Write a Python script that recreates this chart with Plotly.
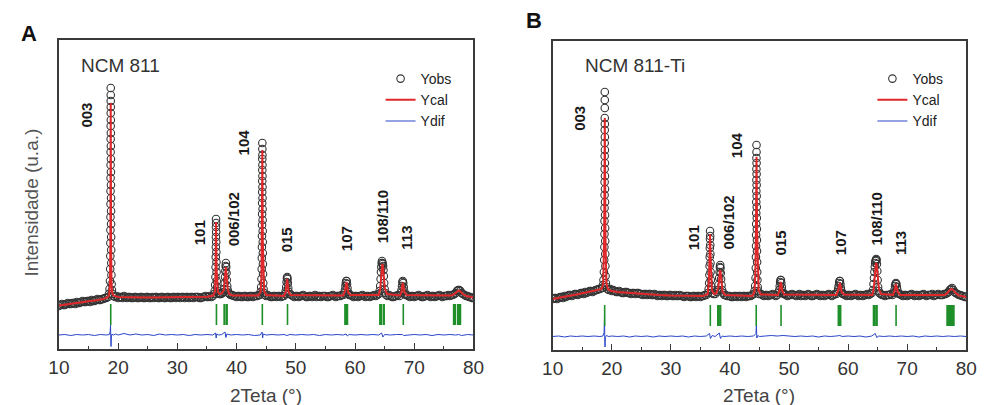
import plotly.graph_objects as go

# ---------------- DATA (2Teta in degrees, intensity in a.u.) ----------------
obs_A_bg1 = [(10.0, 43), (10.25, 44), (10.5, 45), (10.75, 44), (11.0, 44), (11.25, 45), (11.5, 46), (11.75, 45),
             (12.0, 45), (12.25, 46), (12.5, 46), (12.75, 45), (13.0, 47), (13.25, 46), (13.5, 46), (13.75, 47),
             (14.0, 48), (14.25, 47), (14.5, 47), (14.75, 48), (15.0, 48), (15.25, 47), (15.5, 49), (15.75, 48),
             (16.0, 48), (16.25, 49), (16.5, 50), (16.75, 49), (17.0, 49), (17.25, 50), (17.5, 50), (17.75, 51),
             (18.0, 51)]
obs_A_003 = [(18.3, 52), (18.45, 55), (18.55, 60), (18.62, 68), (18.66, 80), (18.68, 93), (18.69, 106), (18.70, 119),
             (18.71, 132), (18.715, 145), (18.72, 158), (18.725, 171), (18.73, 184), (18.735, 197), (18.74, 210),
             (18.745, 223), (18.75, 236), (18.75, 248), (18.75, 254), (18.75, 261),
             (18.76, 242), (18.765, 229), (18.77, 216), (18.775, 203), (18.78, 190), (18.785, 177), (18.79, 164),
             (18.80, 151), (18.805, 138), (18.81, 125), (18.82, 112), (18.83, 99), (18.845, 86), (18.87, 74),
             (18.9, 65), (18.95, 59), (19.05, 55), (19.2, 53)]
obs_A_bg2 = [(19.5, 52), (19.75, 53), (20.0, 51), (20.25, 52), (20.5, 52), (20.75, 51), (21.0, 53), (21.25, 52),
             (21.5, 51), (21.75, 52), (22.0, 52), (22.25, 51), (22.5, 51), (22.75, 52), (23.0, 52), (23.25, 51),
             (23.5, 51), (23.75, 52), (24.0, 52), (24.25, 51), (24.5, 51), (24.75, 52), (25.0, 52), (25.25, 51),
             (25.5, 51), (25.75, 52), (26.0, 51), (26.25, 52), (26.5, 52), (26.75, 51), (27.0, 51), (27.25, 52),
             (27.5, 52), (27.75, 51), (28.0, 51), (28.25, 52), (28.5, 52), (28.75, 51), (29.0, 51), (29.25, 52),
             (29.5, 52), (29.75, 51), (30.0, 52), (30.25, 52), (30.5, 51), (30.75, 52), (31.0, 52), (31.25, 51),
             (31.5, 52), (31.75, 52), (32.0, 51), (32.25, 52), (32.5, 52), (32.75, 51), (33.0, 52), (33.25, 52),
             (33.5, 52), (33.75, 51), (34.0, 51), (34.25, 52), (34.5, 52), (34.75, 53), (35.0, 52), (35.25, 52),
             (35.5, 53), (35.75, 52), (36.0, 53)]
obs_A_101 = [(36.2, 55), (36.3, 58), (36.38, 64), (36.43, 72), (36.46, 82), (36.48, 92), (36.5, 102), (36.51, 112),
             (36.52, 122), (36.53, 130), (36.54, 126), (36.55, 117), (36.56, 107), (36.58, 97), (36.6, 87),
             (36.62, 77), (36.65, 68), (36.7, 62), (36.78, 58), (36.9, 56), (37.05, 55), (37.2, 55), (37.4, 55),
             (37.6, 56)]
obs_A_006_102 = [(37.8, 57), (37.9, 60), (38.0, 66), (38.05, 72), (38.1, 78), (38.15, 83), (38.2, 86), (38.25, 82),
                 (38.3, 76), (38.35, 69), (38.42, 63), (38.5, 59), (38.65, 56), (38.8, 55), (39.0, 54)]
obs_A_bg3 = [(39.25, 54), (39.5, 53), (39.75, 53), (40.0, 52), (40.25, 53), (40.5, 53), (40.75, 52), (41.0, 52),
             (41.25, 53), (41.5, 53), (41.75, 52), (42.0, 52), (42.25, 53), (42.5, 53), (42.75, 52), (43.0, 53),
             (43.25, 53), (43.5, 53), (43.75, 54)]
obs_A_104 = [(43.9, 54), (44.05, 57), (44.15, 62), (44.2, 70), (44.24, 80), (44.26, 91), (44.28, 102), (44.29, 113),
             (44.3, 124), (44.31, 135), (44.32, 146), (44.33, 157), (44.335, 168), (44.34, 179), (44.345, 190),
             (44.35, 200), (44.35, 206),
             (44.36, 194), (44.365, 184), (44.37, 173), (44.375, 162), (44.38, 151), (44.39, 140), (44.4, 129),
             (44.41, 118), (44.42, 107), (44.43, 96), (44.45, 85), (44.47, 75), (44.5, 66), (44.55, 60),
             (44.65, 56), (44.8, 54)]
obs_A_bg4 = [(45.0, 53), (45.25, 54), (45.5, 53), (45.75, 52), (46.0, 52), (46.25, 53), (46.5, 53), (46.75, 52),
             (47.0, 53), (47.25, 53), (47.5, 52), (47.75, 53), (48.0, 53)]
obs_A_015 = [(48.2, 55), (48.3, 58), (48.38, 62), (48.44, 67), (48.5, 71), (48.55, 72), (48.6, 70), (48.66, 66),
             (48.72, 61), (48.8, 57), (48.9, 55)]
obs_A_bg5 = [(49.25, 54), (49.5, 53), (49.75, 52), (50.0, 53), (50.25, 53), (50.5, 52), (50.75, 53), (51.0, 53),
             (51.25, 54), (51.5, 53), (51.75, 52), (52.0, 52), (52.25, 53), (52.5, 53), (52.75, 52), (53.0, 53),
             (53.25, 54), (53.5, 52), (53.75, 53), (54.0, 53), (54.25, 52), (54.5, 53), (54.75, 53), (55.0, 53),
             (55.25, 52), (55.5, 52), (55.75, 53), (56.0, 53), (56.25, 54), (56.5, 53), (56.75, 52), (57.0, 53),
             (57.25, 53), (57.5, 53), (57.75, 54), (58.0, 54)]
obs_A_107 = [(58.2, 56), (58.3, 59), (58.38, 63), (58.45, 66), (58.52, 68), (58.58, 68), (58.65, 65), (58.72, 61),
             (58.8, 57), (58.9, 55), (59.0, 54)]
obs_A_bg6 = [(59.25, 54), (59.5, 53), (59.75, 52), (60.0, 53), (60.25, 53), (60.5, 52), (60.75, 53), (61.0, 53),
             (61.25, 54), (61.5, 53), (61.75, 52), (62.0, 53), (62.25, 53), (62.5, 52), (62.75, 53), (63.0, 53),
             (63.25, 54), (63.5, 53), (63.75, 54), (64.0, 55)]
obs_A_108_110 = [(64.15, 58), (64.25, 63), (64.32, 70), (64.38, 77), (64.44, 82), (64.5, 86), (64.56, 88),
                 (64.62, 86), (64.68, 85), (64.74, 83), (64.8, 79), (64.86, 73), (64.92, 66), (65.0, 60),
                 (65.1, 56), (65.25, 54)]
obs_A_bg7 = [(65.5, 53), (65.75, 54), (66.0, 53), (66.25, 52), (66.5, 52), (66.75, 53), (67.0, 53), (67.25, 54),
             (67.5, 53)]
obs_A_113 = [(67.75, 56), (67.85, 59), (67.93, 63), (68.0, 67), (68.07, 68), (68.14, 66), (68.22, 62), (68.3, 58),
             (68.4, 55), (68.55, 54)]
obs_A_bg8 = [(68.75, 54), (69.0, 53), (69.25, 52), (69.5, 53), (69.75, 53), (70.0, 52), (70.25, 53), (70.5, 53),
             (70.75, 54), (71.0, 53), (71.25, 52), (71.5, 52), (71.75, 53), (72.0, 53), (72.25, 54), (72.5, 53),
             (72.75, 52), (73.0, 53), (73.25, 53), (73.5, 52), (73.75, 53), (74.0, 53), (74.25, 54), (74.5, 53),
             (74.75, 52), (75.0, 53), (75.25, 53), (75.5, 53), (75.75, 54), (76.0, 53), (76.25, 54), (76.5, 54)]
obs_A_77 = [(76.8, 55), (77.0, 56), (77.2, 58), (77.4, 59), (77.6, 59), (77.8, 58), (78.0, 56), (78.2, 55), (78.5, 54)]
obs_A_bg9 = [(78.75, 53), (79.0, 53), (79.25, 52), (79.5, 52), (79.75, 51), (80.0, 51)]

# Panel A : calculated profile (Ycal)
cal_A = [(10, 43.5), (12, 45), (14, 46.8), (16, 48.5), (17.5, 50), (18.3, 52), (18.5, 55), (18.62, 65), (18.69, 110),
         (18.72, 180), (18.75, 246), (18.78, 180), (18.81, 110), (18.88, 65), (19.0, 56), (19.3, 53), (20, 52),
         (25, 51.5), (30, 51.7), (35, 52.3), (36.1, 53.5), (36.35, 58), (36.45, 75), (36.5, 105), (36.53, 127),
         (36.57, 105), (36.62, 80), (36.7, 63), (36.85, 57), (37.1, 55), (37.5, 55.5), (37.85, 59), (38.0, 66),
         (38.1, 76), (38.18, 82), (38.26, 78), (38.35, 68), (38.5, 60), (38.75, 55), (39.3, 53.5), (43.7, 53.5),
         (44.05, 57), (44.2, 72), (44.28, 110), (44.35, 199), (44.42, 110), (44.5, 72), (44.65, 58), (45.0, 54),
         (48.0, 53), (48.3, 57), (48.45, 66), (48.53, 70), (48.62, 66), (48.78, 57), (49.1, 54), (58.0, 53.5),
         (58.3, 58), (58.45, 65), (58.55, 67), (58.65, 64), (58.82, 57), (59.2, 54), (64.0, 54), (64.25, 60),
         (64.4, 73), (64.52, 83), (64.6, 85), (64.7, 83), (64.8, 79), (64.9, 70), (65.05, 60), (65.4, 55),
         (67.6, 53.5), (67.85, 57), (67.98, 64), (68.07, 66), (68.17, 63), (68.35, 57), (68.7, 54), (76.3, 53.5),
         (76.8, 55), (77.2, 57.5), (77.5, 58.5), (77.8, 57.5), (78.2, 55), (78.8, 53), (80, 51.5)]

# Panel A : difference curve (Yobs - Ycal)
dif_A = [(10, 0), (11, 0.5), (12, -0.5), (13, 0.5), (14, 0), (15, 0.5), (16, -0.5), (17, 0.5), (18, 0), (18.5, 0.5),
         (18.65, 3), (18.72, 10), (18.76, -4), (18.8, -11.5), (18.86, -2), (18.95, 1), (19.2, 0), (19.6, 1),
         (20, 0), (21, 1.5), (21.5, 0.5), (22, 0), (23, 1), (24, 0), (25, 0.5), (26, -0.5), (27, 1), (28, 0),
         (29, 0.5), (30, 0), (31, 0.5), (32, -0.5), (33, 0.5), (34, 0), (35, 0.5), (36, 0), (36.45, 2),
         (36.55, -3), (36.65, 1), (37, 0), (37.5, 0.5), (38.05, 3), (38.2, -2.5), (38.35, 1), (39, 0), (40, 0.5),
         (41, 0), (42, 0.5), (43, -0.5), (44, 0), (44.3, 3), (44.4, -3), (44.5, 1), (45, 0), (46, 0.5), (47, 0),
         (48, 0.5), (48.5, -0.5), (49, 0.5), (50, 0), (51, 0.5), (52, 0), (53, 0.5), (54, -0.5), (55, 0.5),
         (56, 0), (57, 0.5), (58, 0), (58.5, 1), (58.7, -1), (59, 0.5), (60, 0), (61, 0.5), (62, 0), (63, 0.5),
         (64, 0), (64.5, 2), (64.7, -2), (65, 0.5), (66, 0), (67, 0.5), (68, 0.5), (68.2, -0.5), (69, 0),
         (70, 0.5), (71, 0), (72, 0.5), (73, -0.5), (74, 0.5), (75, 0), (76, 0.5), (77, 0), (77.5, 0.5),
         (78, -0.5), (79, 0.5), (80, 0)]

# Panel A : Bragg reflection positions
bragg_A = [18.75, 36.6, 37.9, 38.0, 38.3, 38.4, 44.35, 48.6, 58.3, 58.42, 58.6, 58.72, 64.2, 64.32, 64.45,
           64.8, 64.92, 68.15, 76.65, 76.8, 76.95, 77.35, 77.5, 77.65, 77.8]

# Panel B : NCM 811-Ti -- observed pattern (Yobs)
obs_B_bg1 = [(10.0, 51), (10.25, 52), (10.5, 52), (10.75, 51), (11.0, 52), (11.25, 53), (11.5, 53), (11.75, 52),
             (12.0, 54), (12.25, 53), (12.5, 54), (12.75, 55), (13.0, 55), (13.25, 54), (13.5, 55), (13.75, 56),
             (14.0, 56), (14.25, 55), (14.5, 56), (14.75, 57), (15.0, 57), (15.25, 56), (15.5, 58), (15.75, 57),
             (16.0, 58), (16.25, 59), (16.5, 59), (16.75, 58), (17.0, 59), (17.25, 60), (17.5, 60), (17.75, 61),
             (18.0, 61)]
obs_B_003 = [(18.35, 62), (18.5, 65), (18.6, 70), (18.67, 78), (18.72, 90), (18.75, 103), (18.76, 116), (18.77, 129),
             (18.78, 142), (18.785, 155), (18.79, 168), (18.795, 181), (18.8, 194), (18.805, 207), (18.81, 220),
             (18.815, 232), (18.82, 242), (18.82, 250), (18.82, 258),
             (18.83, 226), (18.835, 213), (18.84, 200), (18.845, 187), (18.85, 174), (18.855, 161), (18.86, 148),
             (18.87, 135), (18.88, 122), (18.89, 109), (18.9, 96), (18.92, 84), (18.95, 74), (19.0, 67),
             (19.1, 63), (19.25, 61)]
obs_B_bg2 = [(19.5, 60), (19.75, 61), (20.0, 59), (20.25, 60), (20.5, 59), (20.75, 58), (21.0, 58), (21.25, 59),
             (21.5, 58), (21.75, 57), (22.0, 57), (22.25, 58), (22.5, 58), (22.75, 57), (23.0, 57), (23.25, 56),
             (23.5, 57), (23.75, 57), (24.0, 56), (24.25, 57), (24.5, 57), (24.75, 56), (25.0, 56), (25.25, 55),
             (25.5, 56), (25.75, 56), (26.0, 55), (26.25, 56), (26.5, 56), (26.75, 55), (27.0, 55), (27.25, 56),
             (27.5, 55), (27.75, 54), (28.0, 55), (28.25, 55), (28.5, 54), (28.75, 55), (29.0, 55), (29.25, 54),
             (29.5, 54), (29.75, 55), (30.0, 55), (30.25, 54), (30.5, 54), (30.75, 55), (31.0, 54), (31.25, 54),
             (31.5, 55), (31.75, 54), (32.0, 54), (32.25, 53), (32.5, 54), (32.75, 54), (33.0, 54), (33.25, 53),
             (33.5, 53), (33.75, 54), (34.0, 54), (34.25, 53), (34.5, 54), (34.75, 54), (35.0, 53), (35.25, 54),
             (35.5, 54), (35.75, 55), (36.0, 55)]
obs_B_101 = [(36.3, 57), (36.4, 61), (36.48, 67), (36.53, 75), (36.56, 84), (36.58, 93), (36.6, 102), (36.62, 111),
             (36.64, 119), (36.66, 114), (36.67, 105), (36.69, 96), (36.71, 87), (36.73, 78), (36.76, 70),
             (36.8, 64), (36.88, 60), (37.0, 57), (37.2, 56), (37.5, 56), (37.8, 58)]
obs_B_006_102 = [(37.95, 60), (38.08, 65), (38.18, 72), (38.25, 78), (38.3, 83), (38.35, 85), (38.4, 82),
                 (38.45, 77), (38.5, 71), (38.58, 65), (38.68, 60), (38.85, 57), (39.05, 55)]
obs_B_bg3 = [(39.25, 55), (39.5, 54), (39.75, 54), (40.0, 54), (40.25, 53), (40.5, 53), (40.75, 54), (41.0, 54),
             (41.25, 53), (41.5, 54), (41.75, 54), (42.0, 53), (42.25, 54), (42.5, 54), (42.75, 53), (43.0, 54),
             (43.25, 54), (43.5, 54), (43.75, 55)]
obs_B_104 = [(44.0, 56), (44.15, 59), (44.27, 64), (44.34, 72), (44.38, 82), (44.4, 93), (44.42, 104), (44.43, 115),
             (44.44, 126), (44.45, 137), (44.46, 148), (44.47, 159), (44.48, 170), (44.485, 181), (44.49, 192),
             (44.5, 198), (44.5, 205),
             (44.51, 187), (44.515, 176), (44.52, 165), (44.53, 154), (44.54, 143), (44.55, 132), (44.56, 121),
             (44.57, 110), (44.58, 99), (44.6, 88), (44.62, 78), (44.65, 70), (44.7, 63), (44.78, 59), (44.9, 56)]
obs_B_bg4 = [(45.25, 56), (45.5, 55), (45.75, 54), (46.0, 55), (46.25, 55), (46.5, 54), (46.75, 55), (47.0, 55),
             (47.25, 56), (47.5, 55), (47.75, 54), (48.0, 55)]
obs_B_015 = [(48.25, 57), (48.35, 60), (48.43, 64), (48.5, 68), (48.57, 70), (48.63, 70), (48.7, 67), (48.78, 63),
             (48.86, 59), (48.96, 57), (49.1, 56)]
obs_B_bg5 = [(49.25, 56), (49.5, 55), (49.75, 54), (50.0, 55), (50.25, 55), (50.5, 56), (50.75, 55), (51.0, 55),
             (51.25, 54), (51.5, 55), (51.75, 56), (52.0, 54), (52.25, 55), (52.5, 55), (52.75, 54), (53.0, 55),
             (53.25, 56), (53.5, 55), (53.75, 54), (54.0, 54), (54.25, 55), (54.5, 55), (54.75, 56), (55.0, 55),
             (55.25, 54), (55.5, 55), (55.75, 55), (56.0, 54), (56.25, 55), (56.5, 55), (56.75, 56), (57.0, 55),
             (57.25, 54), (57.5, 55), (57.75, 56), (58.0, 56)]
obs_B_107 = [(58.22, 58), (58.32, 61), (58.4, 64), (58.48, 67), (58.55, 69), (58.62, 69), (58.7, 66), (58.78, 62),
             (58.86, 59), (58.96, 57), (59.1, 56)]
obs_B_bg6 = [(59.25, 56), (59.5, 55), (59.75, 54), (60.0, 55), (60.25, 55), (60.5, 54), (60.75, 55), (61.0, 55),
             (61.25, 56), (61.5, 55), (61.75, 54), (62.0, 55), (62.25, 55), (62.5, 54), (62.75, 55), (63.0, 55),
             (63.25, 56), (63.5, 55), (63.75, 56), (64.0, 57)]
obs_B_108_110 = [(64.2, 60), (64.3, 66), (64.38, 72), (64.45, 78), (64.52, 83), (64.58, 87), (64.64, 89),
                 (64.7, 90), (64.76, 91), (64.82, 90), (64.88, 86), (64.94, 79), (65.0, 70), (65.08, 63),
                 (65.18, 59), (65.3, 57)]
obs_B_bg7 = [(65.5, 56), (65.75, 55), (66.0, 55), (66.25, 54), (66.5, 55), (66.75, 55), (67.0, 55), (67.25, 56),
             (67.5, 55)]
obs_B_113 = [(67.75, 57), (67.85, 60), (67.95, 64), (68.03, 66), (68.1, 67), (68.17, 66), (68.25, 63), (68.33, 60),
             (68.43, 57), (68.58, 56)]
obs_B_bg8 = [(68.75, 56), (69.0, 55), (69.25, 54), (69.5, 55), (69.75, 55), (70.0, 54), (70.25, 55), (70.5, 55),
             (70.75, 56), (71.0, 55), (71.25, 54), (71.5, 55), (71.75, 55), (72.0, 54), (72.25, 55), (72.5, 55),
             (72.75, 56), (73.0, 55), (73.25, 54), (73.5, 55), (73.75, 55), (74.0, 55), (74.25, 56), (74.5, 54),
             (74.75, 55), (75.0, 55), (75.25, 56), (75.5, 55), (75.75, 55), (76.0, 55), (76.25, 56), (76.5, 56)]
obs_B_77 = [(76.8, 57), (77.0, 58), (77.2, 60), (77.4, 61), (77.6, 62), (77.8, 60), (78.0, 58), (78.2, 57), (78.5, 56)]
obs_B_bg9 = [(78.75, 55), (79.0, 55), (79.25, 54), (79.5, 54), (79.75, 53), (80.0, 53)]

# Panel B : calculated profile (Ycal)
cal_B = [(10, 51), (12, 53), (14, 55.5), (16, 58), (17.6, 60), (18.3, 61), (18.55, 66), (18.7, 110), (18.78, 190),
         (18.82, 232), (18.86, 190), (18.94, 110), (19.1, 66), (19.4, 60.5), (20, 59), (21, 58), (23, 57), (25, 56),
         (28, 55), (30, 54.5), (33, 54), (35.5, 54), (36.25, 56), (36.45, 70), (36.55, 95), (36.64, 116),
         (36.72, 95), (36.8, 70), (36.95, 60), (37.3, 56), (37.7, 56.5), (38.05, 63), (38.2, 72), (38.32, 80),
         (38.42, 78), (38.55, 66), (38.75, 58), (39.2, 55), (43.8, 54), (44.15, 58), (44.3, 75), (44.4, 120),
         (44.5, 193), (44.6, 120), (44.7, 75), (44.85, 60), (45.2, 55.5), (48.1, 55), (48.35, 59), (48.5, 66),
         (48.6, 68), (48.7, 65), (48.85, 59), (49.2, 55.5), (58.0, 55), (58.3, 59), (58.5, 66), (58.6, 67),
         (58.72, 64), (58.9, 58), (59.3, 55.5), (64.1, 55), (64.35, 62), (64.55, 78), (64.7, 86), (64.8, 87),
         (64.9, 82), (65.05, 70), (65.25, 60), (65.6, 56), (67.6, 55), (67.85, 59), (68.0, 65), (68.1, 66),
         (68.2, 63), (68.4, 58), (68.8, 55), (76.3, 55), (76.8, 57), (77.2, 60), (77.5, 61), (77.8, 60),
         (78.2, 57), (78.8, 54.5), (80, 53)]

# Panel B : difference curve
dif_B = [(10, 0), (11, 0.5), (12, -0.5), (13, 0.5), (14, 0), (15, 0.5), (16, 0), (17, 0.5), (18, 0), (18.5, 0.5),
         (18.7, 4), (18.78, 21), (18.82, -5), (18.86, -10.5), (18.92, -1), (19.1, 1), (19.5, 0), (20, 0.5),
         (21, 0), (22, 0.5), (23, -0.5), (24, 0.5), (25, 0), (26, 0.5), (27, -0.5), (28, 0.5), (29, 0),
         (30, 0.5), (31, 0), (32, 0.5), (33, -0.5), (34, 0.5), (35, 0), (36, 0.5), (36.55, 3), (36.7, -2),
         (37, 1), (37.5, 0), (38.2, 3.5), (38.4, -2), (38.7, 0.5), (39, 0), (40, 0.5), (41, 0), (42, 0.5),
         (43, 0), (44, 0.5), (44.4, 3), (44.48, 11), (44.55, -1.5), (44.7, 1), (45, 0), (46, 0.5), (47, 1),
         (48, 0.5), (49, 1), (50, 0.5), (51, 0), (52, 0.5), (53, 0), (54, 0.5), (55, -0.5), (56, 0.5), (57, 0),
         (58, 0.5), (58.6, 1), (59, 0), (60, 0.5), (61, 0), (62, 0.5), (63, -0.5), (64, 0.5), (64.6, 3),
         (64.85, -1), (65.2, 0.5), (66, 0), (67, 0.5), (68, 0), (69, 0.5), (70, 0), (71, 0.5), (72, -0.5),
         (73, 0.5), (74, 0), (75, 0.5), (76, 0), (77, 0.5), (78, 0), (79, 0.5), (80, 0)]

bragg_B = [18.8, 36.68, 37.95, 38.07, 38.3, 38.42, 44.45, 48.65, 58.35, 58.48, 58.62, 58.74, 64.3, 64.42, 64.55,
           64.78, 64.9, 68.12, 76.75, 76.88, 77.0, 77.13, 77.26, 77.39, 77.52, 77.65, 77.78, 77.91]

# peak (hkl) labels: text, 2Teta, intensity where the label is centred
labels_A = [("003", 14.5, 234), ("101", 33.7, 116), ("006/102", 39.45, 130), ("104", 41.15, 207),
            ("015", 48.4, 109), ("107", 58.5, 110), ("108/110", 64.6, 132), ("113", 68.55, 111)]
labels_B = [("003", 14.6, 232), ("101", 33.8, 112), ("006/102", 39.6, 127), ("104", 41.05, 205),
            ("015", 48.4, 107), ("107", 58.65, 107), ("108/110", 64.8, 131), ("113", 68.8, 107)]

x_ticks = [10, 20, 30, 40, 50, 60, 70, 80]

obs_A = (obs_A_bg1 + obs_A_003 + obs_A_bg2 + obs_A_101 + obs_A_006_102 + obs_A_bg3 + obs_A_104 + obs_A_bg4 +
         obs_A_015 + obs_A_bg5 + obs_A_107 + obs_A_bg6 + obs_A_108_110 + obs_A_bg7 + obs_A_113 + obs_A_bg8 +
         obs_A_77 + obs_A_bg9)
obs_B = (obs_B_bg1 + obs_B_003 + obs_B_bg2 + obs_B_101 + obs_B_006_102 + obs_B_bg3 + obs_B_104 + obs_B_bg4 +
         obs_B_015 + obs_B_bg5 + obs_B_107 + obs_B_bg6 + obs_B_108_110 + obs_B_bg7 + obs_B_113 + obs_B_bg8 +
         obs_B_77 + obs_B_bg9)

# ---------------- STYLE ----------------
FONT = "Arial, 'Liberation Sans', Helvetica, sans-serif"
OBS_COLOR = "#333333"
CAL_COLOR = "#e0282a"
DIF_COLOR = "#2a45c8"
BRAGG_COLOR = "#1f8f2a"
AXIS_COLOR = "#3a3a3a"
DIF_OFFSET = {"A": 14.0, "B": 13.5}
BRAGG_LEVEL = 34.5
Y_RANGE = [0, 309]

fig = go.Figure()


def add_panel(obs, cal, dif, bragg, key, xa, ya, legend):
    fig.add_trace(go.Scatter(x=[p[0] for p in obs], y=[p[1] for p in obs], mode="markers", name="Yobs",
                             marker=dict(symbol="circle-open", size=7.5, color=OBS_COLOR, line=dict(width=1.1)),
                             xaxis=xa, yaxis=ya, legend=legend))
    fig.add_trace(go.Scatter(x=[p[0] for p in cal], y=[p[1] for p in cal], mode="lines", name="Ycal",
                             line=dict(color=CAL_COLOR, width=2), xaxis=xa, yaxis=ya, legend=legend))
    fig.add_trace(go.Scatter(x=[p[0] for p in dif], y=[p[1] + DIF_OFFSET[key] for p in dif], mode="lines",
                             name="Ydif", line=dict(color=DIF_COLOR, width=1), xaxis=xa, yaxis=ya, legend=legend))
    fig.add_trace(go.Scatter(x=bragg, y=[BRAGG_LEVEL] * len(bragg), mode="markers", showlegend=False,
                             marker=dict(symbol="line-ns", size=15, line=dict(width=1.6, color=BRAGG_COLOR)),
                             xaxis=xa, yaxis=ya))


add_panel(obs_A, cal_A, dif_A, bragg_A, "A", "x", "y", "legend")
add_panel(obs_B, cal_B, dif_B, bragg_B, "B", "x2", "y2", "legend2")

W, H = 989, 405
dom_A_x = [49 / W, 473 / W]
dom_B_x = [554 / W, 977 / W]
dom_A_y = [1 - 349 / H, 1 - 40 / H]
dom_B_y = [1 - 350 / H, 1 - 41 / H]

xaxis_common = dict(range=[10, 80], tickmode="array", tickvals=x_ticks, ticks="inside", ticklen=6, tickwidth=1,
                    tickcolor=AXIS_COLOR, showline=True, mirror=True, linecolor=AXIS_COLOR, linewidth=1.5,
                    showgrid=False, zeroline=False, tickfont=dict(family=FONT, size=19, color="#333333"),
                    minor=dict(ticks="inside", ticklen=3, tickwidth=1, tickcolor=AXIS_COLOR, dtick=5, tick0=10,
                               showgrid=False),
                    ticklabelstandoff=0)
yaxis_common = dict(range=Y_RANGE, showticklabels=False, ticks="", showline=True, mirror=True,
                    linecolor=AXIS_COLOR, linewidth=1.5, showgrid=False, zeroline=False)

legend_common = dict(font=dict(family=FONT, size=14, color="#222222"), bgcolor="rgba(0,0,0,0)",
                     tracegroupgap=0, itemwidth=30, xanchor="left", yanchor="top", borderwidth=0)

ann = []
for lab, xx, yy in labels_A:
    ann.append(dict(text="<b>" + lab + "</b>", x=xx, y=yy, xref="x", yref="y", showarrow=False, textangle=-90,
                    font=dict(family=FONT, size=15, color="#1a1a1a")))
for lab, xx, yy in labels_B:
    ann.append(dict(text="<b>" + lab + "</b>", x=xx, y=yy, xref="x2", yref="y2", showarrow=False, textangle=-90,
                    font=dict(family=FONT, size=15, color="#1a1a1a")))

ann += [
    dict(text="NCM 811", x=70 / W, y=1 - 65 / H, xref="paper", yref="paper", xanchor="left", yanchor="middle",
         showarrow=False, font=dict(family=FONT, size=19, color="#333333")),
    dict(text="NCM 811-Ti", x=585 / W, y=1 - 65 / H, xref="paper", yref="paper", xanchor="left",
         yanchor="middle", showarrow=False, font=dict(family=FONT, size=19, color="#333333")),
    dict(text="<b>A</b>", x=18 / W, y=1 - 33 / H, xref="paper", yref="paper", xanchor="center",
         yanchor="middle", showarrow=False, font=dict(family=FONT, size=22, color="#111111")),
    dict(text="<b>B</b>", x=535 / W, y=1 - 20 / H, xref="paper", yref="paper", xanchor="center",
         yanchor="middle", showarrow=False, font=dict(family=FONT, size=22, color="#111111")),
    dict(text="2Teta (°)", x=261 / W, y=1 - 395 / H, xref="paper", yref="paper", xanchor="center",
         yanchor="middle", showarrow=False, font=dict(family=FONT, size=19, color="#444444")),
    dict(text="2Teta (°)", x=765 / W, y=1 - 395 / H, xref="paper", yref="paper", xanchor="center",
         yanchor="middle", showarrow=False, font=dict(family=FONT, size=19, color="#444444")),
    dict(text="Intensidade (u.a.)", x=20 / W, y=1 - 203 / H, xref="paper", yref="paper", xanchor="center",
         yanchor="middle", textangle=-90, showarrow=False, font=dict(family=FONT, size=19, color="#555555")),
]

fig.update_layout(
    width=W, height=H, margin=dict(l=0, r=0, t=0, b=0), paper_bgcolor="white", plot_bgcolor="white",
    xaxis=dict(domain=dom_A_x, anchor="y", **xaxis_common),
    yaxis=dict(domain=dom_A_y, anchor="x", **yaxis_common),
    xaxis2=dict(domain=dom_B_x, anchor="y2", **xaxis_common),
    yaxis2=dict(domain=dom_B_y, anchor="x2", **yaxis_common),
    legend=dict(x=378 / W, y=1 - 63 / H, **legend_common),
    legend2=dict(x=881 / W, y=1 - 63 / H, **legend_common),
    annotations=ann,
    showlegend=True,
)

fig.write_html("out.html")
